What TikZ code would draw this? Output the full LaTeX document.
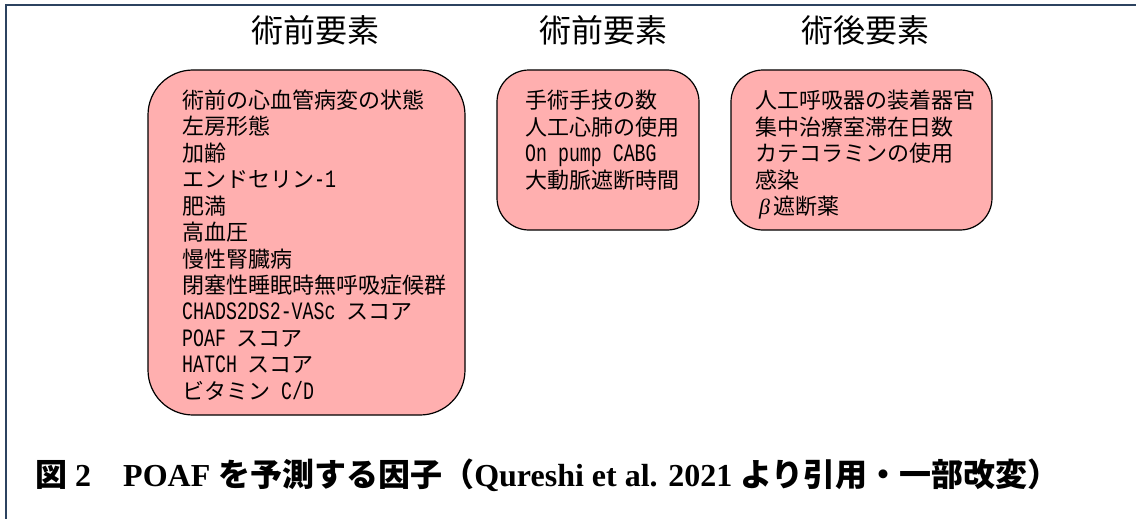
\documentclass[tikz,border=0pt]{standalone}
\usepackage{fontspec}
\setmainfont{Noto Sans CJK JP}
\newfontfamily\lmono[FakeStretch=0.73]{Liberation Mono}
\newfontfamily\tserif{Liberation Serif}
\newfontfamily\gsi{Liberation Serif}
\newcommand\mono[1]{{\lmono\fontsize{25}{26}\selectfont #1}}
\newcommand\lat[1]{{\tserif\bfseries #1}}
\definecolor{framecol}{RGB}{44,67,96}
\definecolor{boxfill}{RGB}{255,175,175}
\tikzset{
  factorbox/.style={draw=black, line width=1.2pt, fill=boxfill},
  heading/.style={inner sep=0pt, font=\fontsize{32}{36}\selectfont, text height=0.88em, text depth=0.12em},
  item/.style={inner sep=0pt, anchor=west, font=\fontsize{22}{26}\selectfont, text height=0.88em, text depth=0.12em},
  caption/.style={inner sep=0pt, anchor=west, font=\fontsize{32}{36}\selectfont\bfseries, text height=0.88em, text depth=0.12em}
}
\begin{document}
\begin{tikzpicture}[x=1pt,y=-1pt]
\useasboundingbox (0,0) rectangle (1136,519);
% frame
\draw[framecol, line width=2.6pt] (6,519) -- (6,5) -- (1136,5);
% headings
\node[heading] (h1) at (315,39) {術前要素};
\node[heading] (h2) at (603,39) {術前要素};
\node[heading] (h3) at (865,39) {術後要素};
% boxes
\draw[factorbox, rounded corners=45pt] (148,70) rectangle (465,415);
\draw[factorbox, rounded corners=32pt] (497,70) rectangle (699,230);
\draw[factorbox, rounded corners=32pt] (731,70) rectangle (992,230);
% box 1 items
\foreach \t [count=\i] in {術前の心血管病変の状態, 左房形態, 加齢, エンドセリン\mono{-1}, 肥満, 高血圧, 慢性腎臓病, 閉塞性睡眠時無呼吸症候群, \mono{CHADS2DS2-VASc }スコア, \mono{POAF }スコア, \mono{HATCH }スコア, ビタミン\mono{\ C/D}}
  \node[item] (p\i) at (182,{104.5+26.45*(\i-1)}) {\t};
% box 2 items
\foreach \t [count=\i] in {手術手技の数, 人工心肺の使用, \mono{On pump CABG}, 大動脈遮断時間}
  \node[item] (s\i) at (525,{105+26.45*(\i-1)}) {\t};
% box 3 items
\foreach \t [count=\i] in {人工呼吸器の装着器官, 集中治療室滞在日数, カテコラミンの使用, 感染, {\hspace{4pt}\gsi\itshape β}\hspace{3pt}遮断薬}
  \node[item] (q\i) at (755,{105+26.45*(\i-1)}) {\t};
% caption
\node[caption] (cap) at (35,483) {図\lat{~2}　\lat{POAF }を予測する因子（\lat{Qureshi et al. 2021 }より引用・一部改変）};
\end{tikzpicture}
\end{document}
